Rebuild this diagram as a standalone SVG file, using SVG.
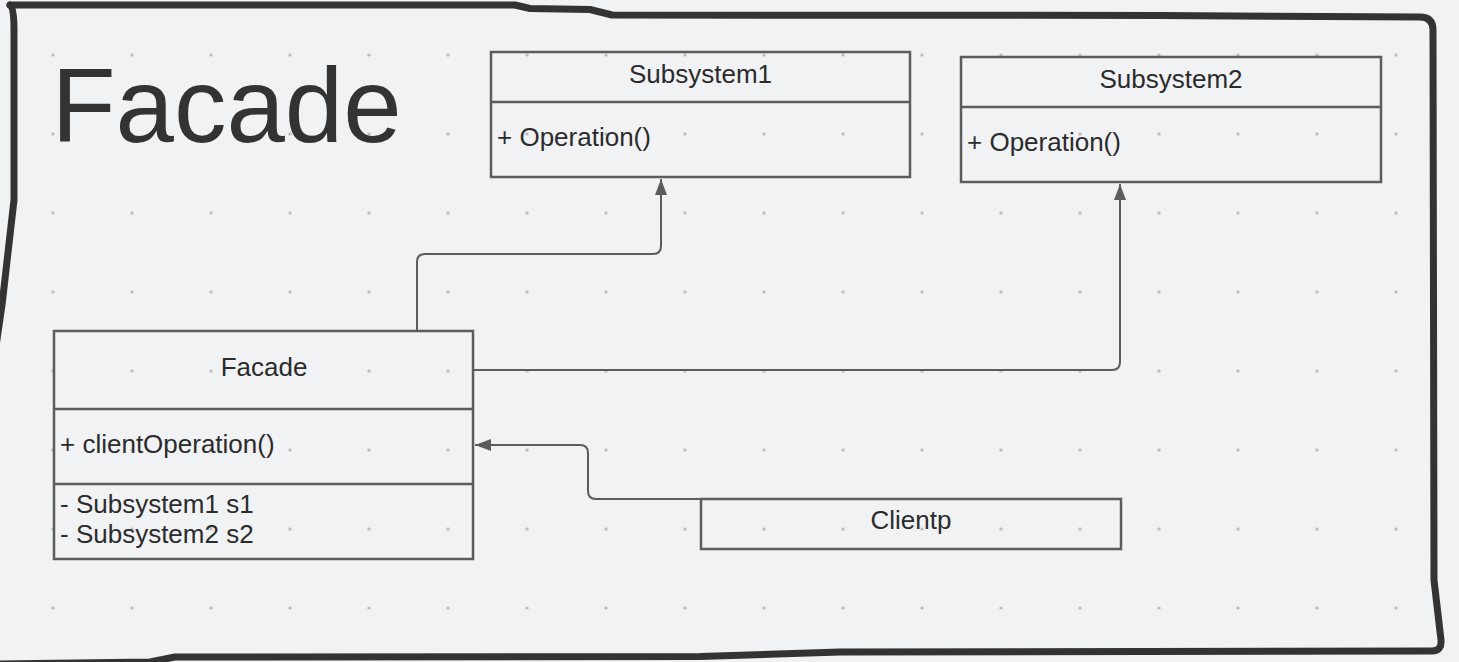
<svg xmlns="http://www.w3.org/2000/svg" width="1459" height="662" viewBox="0 0 1459 662">
<style>
.box{fill:none;stroke:#5c5c5c;stroke-width:2.5}
.div{stroke:#5c5c5c;stroke-width:2.5}
.t{font-family:"Liberation Sans",Arial,sans-serif;font-size:26px;fill:#2b2b2b}
.c{text-anchor:middle}
.conn{fill:none;stroke:#5c5c5c;stroke-width:2}
.frame{fill:none;stroke:#333333;stroke-width:7;stroke-linejoin:round;stroke-linecap:round}
</style>
<defs>
<pattern id="dots" x="13.5" y="15.5" width="79" height="79" patternUnits="userSpaceOnUse">
<circle cx="39.5" cy="39.5" r="1.6" fill="#b3b5ba"/>
</pattern>
<marker id="arr" viewBox="0 0 16 12" refX="16" refY="6" markerWidth="16" markerHeight="12" markerUnits="userSpaceOnUse" orient="auto">
<path d="M0,0 L16,6 L0,12 Z" fill="#5c5c5c"/>
</marker>
</defs>
<rect x="0" y="0" width="1459" height="662" fill="#f1f2f4"/>
<rect x="0" y="0" width="1459" height="662" fill="url(#dots)"/>
<path class="frame" d="M10,5 L515,5 L530,8.5 L590,9.5 L612,15 L1160,15.5 L1420,17 Q1433,17 1433,30 L1434,580 L1441,640 Q1442,651 1432,651 L840,652 L700,656.5 L175,657 L150,662 L-5,664"/>
<path class="frame" d="M10,5 Q14,8 14,30 L14,200 L2,305 L-6,360"/>
<text x="51.4" y="142" font-family="Liberation Sans, Arial, sans-serif" font-size="105" fill="#333333">Facade</text>
<g id="subsystem1">
<rect class="box" x="491" y="52" width="419" height="125"/>
<line class="div" x1="491" y1="102" x2="910" y2="102"/>
<text class="t c" x="700.5" y="83">Subsystem1</text>
<text class="t" x="497" y="146">+ Operation()</text>
</g>
<g id="subsystem2">
<rect class="box" x="961" y="57" width="420" height="125"/>
<line class="div" x1="961" y1="107" x2="1381" y2="107"/>
<text class="t c" x="1171" y="88">Subsystem2</text>
<text class="t" x="967" y="151">+ Operation()</text>
</g>
<g id="facade">
<rect class="box" x="54" y="331" width="419" height="228"/>
<line class="div" x1="54" y1="409" x2="473" y2="409"/>
<line class="div" x1="54" y1="484" x2="473" y2="484"/>
<text class="t c" x="264" y="376">Facade</text>
<text class="t" x="60" y="453">+ clientOperation()</text>
<text class="t" x="60" y="513">- Subsystem1 s1</text>
<text class="t" x="60" y="543">- Subsystem2 s2</text>
</g>
<g id="clientp">
<rect class="box" x="701" y="499" width="420" height="50"/>
<text class="t c" x="911" y="529">Clientp</text>
</g>
<g id="connectors">
<path class="conn" d="M417,331 L417,262 Q417,254 425,254 L653,254 Q661,254 661,246 L661,179" marker-end="url(#arr)"/>
<path class="conn" d="M473,370 L1112,370 Q1120,370 1120,362 L1120,184" marker-end="url(#arr)"/>
<path class="conn" d="M701,499 L596,499 Q588,499 588,491 L588,453 Q588,445 580,445 L475,445" marker-end="url(#arr)"/>
</g>
</svg>
